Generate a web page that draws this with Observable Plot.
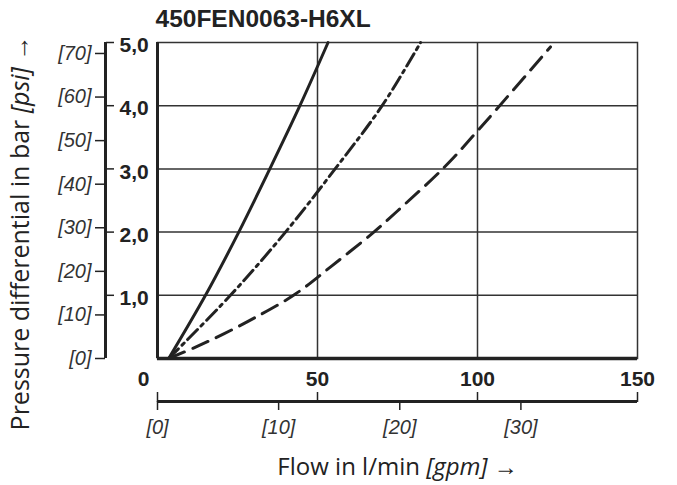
<!DOCTYPE html>
<html><head><meta charset="utf-8">
<script src="https://cdn.jsdelivr.net/npm/d3@7"></script>
<script src="https://cdn.jsdelivr.net/npm/@observablehq/plot@0.6"></script>
<style>
html,body{margin:0;padding:0;background:#fff;}
#chart{position:relative;width:677px;height:485px;}
</style></head><body><div id="chart"></div>
<script>
// ---- text ----
const chartTitle = "450FEN0063-H6XL";
const yTitleParts = [["Pressure differential in bar ", false], ["[psi]", true], [" →", false]];
const xTitleParts = [["Flow in l/min ", false], ["[gpm]", true], [" →", false]];

// ---- ticks ----
const barTicks = [1, 2, 3, 4, 5];
const psiTicks = [0, 10, 20, 30, 40, 50, 60, 70];
const flowTicks = [0, 50, 100, 150];
const gpmTicks = [0, 10, 20, 30];
const PSI_PER_BAR = 14.5038;
const LPM_PER_GPM = 3.78541;

// ---- series (flow l/min, Δp bar) ----
const solidFlow = [3.5, 15.0, 25.4, 35.1, 44.5, 53.3];
const solidDp   = [0, 1, 2, 3, 4, 5];
const dashDotFlow = [3.5, 22.8, 40.0, 55.5, 70.2, 82.2];
const dashDotDp   = [0, 1, 2, 3, 4, 5];
const dashedFlow = [3.5, 11.9, 20.7, 30.6, 43.1, 54.6, 67.6, 74.9, 89.7, 100, 122.8];
const dashedDp   = [0, 0.18, 0.39, 0.65, 1.02, 1.47, 2.0, 2.33, 3.03, 3.6, 4.93];

const toRows = (xs, ys) => xs.map((flow, i) => ({flow, dp: ys[i]}));
const ink = "#222";
const gridInk = "#333";
const tickFont = "'Liberation Sans', Arial, sans-serif";
const boldFont = "'Liberation Sans Narrow', 'Arial Narrow', 'Liberation Sans', Arial, sans-serif";
const titleFont = "'Open Sans', 'Noto Sans', sans-serif";

const fmtBar = d => d.toFixed(1).replace(".", ",");

const main = Plot.plot({
  width: 677, height: 485,
  marginLeft: 157, marginRight: 40, marginTop: 42, marginBottom: 127,
  style: {fontFamily: tickFont, fontSize: "17px", color: ink, background: "white"},
  x: {domain: [0, 150], axis: null},
  y: {domain: [0, 5], axis: null},
  marks: [
    // grid and frame
    Plot.ruleX(flowTicks.filter(d => d > 0 && d < 150), {stroke: gridInk, strokeWidth: 1.5}),
    Plot.ruleY(barTicks.filter(d => d < 5), {stroke: gridInk, strokeWidth: 1.5}),
    Plot.frame({stroke: gridInk, strokeWidth: 1.5}),
    Plot.ruleX([0], {stroke: ink, strokeWidth: 3}),
    Plot.ruleY([0], {stroke: ink, strokeWidth: 3.5}),
    // curves
    Plot.line(toRows(solidFlow, solidDp), {x: "flow", y: "dp", stroke: ink, strokeWidth: 3, curve: "catmull-rom"}),
    Plot.line(toRows(dashDotFlow, dashDotDp), {x: "flow", y: "dp", stroke: ink, strokeWidth: 3, curve: "catmull-rom", strokeDasharray: "14,5,3,5"}),
    Plot.line(toRows(dashedFlow, dashedDp), {x: "flow", y: "dp", stroke: ink, strokeWidth: 3, curve: "catmull-rom", strokeDasharray: "17,9"}),
    // bar / psi axis (detached to the left)
    Plot.ruleX([0], {dx: -52, stroke: ink, strokeWidth: 3}),
    Plot.axisY({anchor: "right", ticks: barTicks, tickSize: 8, fill: "none", stroke: ink, strokeWidth: 1.5, dx: -532, label: null}),
    Plot.axisY({anchor: "right", ticks: barTicks, tickSize: 8, tickPadding: 6, stroke: "none", fill: ink,
      tickFormat: fmtBar, fontFamily: boldFont, fontWeight: "bold", fontSize: 21, dx: -532, dy: 3, label: null}),
    Plot.axisY({anchor: "left", ticks: psiTicks.map(p => p / PSI_PER_BAR), tickSize: 10, tickPadding: 4,
      stroke: ink, strokeWidth: 1.5, fill: "#333",
      tickFormat: d => `[${Math.round(d * PSI_PER_BAR)}]`, fontStyle: "italic", fontSize: 20, dx: -52, label: null}),
    // l/min and gpm axis (detached below)
    Plot.ruleY([0], {dy: 43, stroke: ink, strokeWidth: 3}),
    Plot.axisX({anchor: "top", ticks: flowTicks, tickSize: 10, fill: "none", stroke: ink, strokeWidth: 1.5, dy: 359, label: null}),
    Plot.axisX({anchor: "top", ticks: flowTicks.filter(d => d > 0), tickSize: 10, tickPadding: 6, stroke: "none", fill: ink,
      fontFamily: boldFont, fontWeight: "bold", fontSize: 21, dy: 359, label: null}),
    Plot.axisX({anchor: "top", ticks: flowTicks.filter(d => d === 0), tickSize: 10, tickPadding: 6, stroke: "none", fill: ink,
      fontFamily: boldFont, fontWeight: "bold", fontSize: 21, dy: 359, dx: -14, label: null}),
    Plot.axisX({anchor: "bottom", ticks: gpmTicks.map(g => g * LPM_PER_GPM), tickSize: 9, tickPadding: 9,
      stroke: ink, strokeWidth: 1.5, fill: "#333",
      tickFormat: d => `[${Math.round(d / LPM_PER_GPM)}]`, fontStyle: "italic", fontSize: 20, dy: 43, label: null}),
    // titles
    Plot.text([chartTitle], {text: d => d, frameAnchor: "top-left", textAnchor: "start", lineAnchor: "bottom",
      dx: -2, dy: -16, fontWeight: "bold", fontSize: 24.5, fill: ink}),
    Plot.text(["Y"], {text: d => d, frameAnchor: "left", rotate: -90, textAnchor: "middle", lineAnchor: "middle",
      dx: -137, dy: 32.5, fontSize: 25, fontFamily: titleFont, fill: ink}),
    Plot.text(["X"], {text: d => d, frameAnchor: "bottom", textAnchor: "middle", lineAnchor: "middle",
      dx: 0, dy: 109, fontSize: 24, fontFamily: titleFont, fill: ink})
  ]
});

function rich(svg, marker, parts) {
  const t = Array.from(svg.querySelectorAll("text")).find(e => e.textContent === marker);
  if (!t) return;
  t.textContent = "";
  for (const [s, it] of parts) {
    const ts = document.createElementNS("http://www.w3.org/2000/svg", "tspan");
    ts.textContent = s;
    if (it) ts.setAttribute("font-style", "italic");
    t.appendChild(ts);
  }
}
rich(main, "Y", yTitleParts);
rich(main, "X", xTitleParts);

document.getElementById("chart").appendChild(main);
</script>
</body></html>
